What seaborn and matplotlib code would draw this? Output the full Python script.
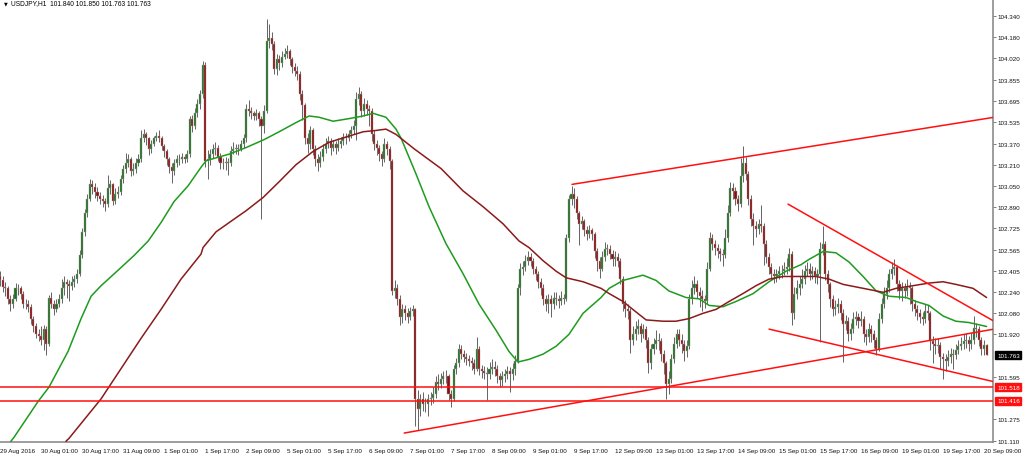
import matplotlib
matplotlib.use("Agg")
import matplotlib.pyplot as plt
import matplotlib.transforms as mtransforms
import seaborn as sns
import numpy as np

# ---- data ----
first_open = 102.36

closes = [
    102.33, 102.28, 102.27, 102.19, 102.15, 102.19, 102.27, 102.27, 102.23, 102.15,
    102.15, 102.13, 102.04, 101.98, 101.92, 101.91, 101.88, 101.96, 101.85, 102.20,
    102.15, 102.11, 102.15, 102.19, 102.27, 102.32, 102.30, 102.29, 102.32, 102.34,
    102.38, 102.52, 102.70, 102.84, 102.95, 103.06, 103.04, 103.00, 102.97, 102.95,
    102.93, 102.91, 103.03, 103.06, 102.93, 102.99, 103.00, 103.10, 103.18, 103.22,
    103.25, 103.16, 103.18, 103.22, 103.25, 103.41, 103.44, 103.41, 103.33, 103.37,
    103.41, 103.43, 103.41, 103.35, 103.31, 103.25, 103.19, 103.16, 103.22, 103.25,
    103.25, 103.27, 103.25, 103.29, 103.56, 103.50, 103.60, 103.67, 103.75, 103.97,
    103.24, 103.25, 103.29, 103.33, 103.34, 103.27, 103.22, 103.22, 103.23, 103.22,
    103.31, 103.33, 103.34, 103.33, 103.37, 103.41, 103.63, 103.62, 103.60, 103.58,
    103.60, 103.56, 103.50, 103.62, 104.15, 104.17, 104.13, 103.94, 104.01, 103.98,
    104.03, 104.05, 104.07, 104.01, 103.95, 103.92, 103.90, 103.75, 103.66, 103.41,
    103.37, 103.47, 103.33, 103.25, 103.22, 103.27, 103.33, 103.37, 103.39, 103.34,
    103.37, 103.34, 103.37, 103.39, 103.42, 103.41, 103.44, 103.47, 103.50, 103.71,
    103.75, 103.62, 103.67, 103.63, 103.62, 103.44, 103.37, 103.34, 103.29, 103.25,
    103.37, 103.33, 103.24, 102.25, 102.27, 102.19, 102.05, 102.11, 102.08, 102.05,
    102.10, 102.11, 101.43, 101.35, 101.43, 101.39, 101.39, 101.43, 101.44, 101.47,
    101.56, 101.54, 101.58, 101.60, 101.60, 101.47, 101.43, 101.66, 101.70, 101.81,
    101.77, 101.75, 101.73, 101.72, 101.70, 101.66, 101.81, 101.66, 101.64, 101.63,
    101.62, 101.66, 101.67, 101.66, 101.60, 101.57, 101.60, 101.62, 101.64, 101.62,
    101.66, 101.72, 102.27, 102.42, 102.43, 102.48, 102.51, 102.48, 102.42, 102.38,
    102.32, 102.27, 102.19, 102.15, 102.19, 102.15, 102.20, 102.19, 102.17, 102.20,
    102.19, 102.65, 102.95, 102.99, 102.95, 102.84, 102.76, 102.78, 102.71, 102.68,
    102.71, 102.68, 102.55, 102.48, 102.42, 102.51, 102.57, 102.57, 102.53, 102.49,
    102.51, 102.48, 102.34, 102.15, 102.11, 102.10, 101.88, 101.92, 101.96, 101.98,
    101.92, 101.96, 101.88, 101.70, 101.81, 101.85, 101.88, 101.87, 101.77, 101.70,
    101.54, 101.58, 101.73, 101.85, 101.92, 101.88, 101.85, 101.79, 101.83, 102.19,
    102.27, 102.30, 102.24, 102.21, 102.19, 102.17, 102.42, 102.65, 102.61, 102.58,
    102.55, 102.53, 102.52, 102.65, 102.84, 103.03, 103.01, 102.95, 102.91, 103.12,
    103.22, 103.14, 102.95, 102.80, 102.74, 102.72, 102.76, 102.74, 102.61, 102.51,
    102.43, 102.38, 102.36, 102.38, 102.40, 102.40, 102.42, 102.43, 102.53, 102.08,
    102.23, 102.27, 102.30, 102.34, 102.40, 102.42, 102.38, 102.40, 102.36, 102.38,
    102.57, 102.61, 102.38, 102.30, 102.19, 102.11, 102.13, 102.15, 102.08, 102.00,
    102.02, 101.92, 101.96, 102.04, 102.05, 102.02, 102.04, 101.92, 101.90, 101.96,
    101.92, 101.88, 101.81, 102.04, 102.15, 102.23, 102.27, 102.38, 102.42, 102.43,
    102.30, 102.25, 102.27, 102.25, 102.28, 102.27, 102.15, 102.11, 102.08, 102.05,
    102.04, 102.10, 102.08, 101.87, 101.85, 101.83, 101.84, 101.75, 101.73, 101.72,
    101.75, 101.77, 101.76, 101.80, 101.83, 101.85, 101.87, 101.88, 101.85, 101.88,
    101.97, 101.96, 101.88, 101.81, 101.84, 101.763,
]

highs = [
    102.40, 102.36, 102.32, 102.29, 102.22, 102.23, 102.31, 102.30, 102.29, 102.25,
    102.19, 102.18, 102.15, 102.06, 102.01, 101.96, 101.98, 101.99, 101.98, 102.22,
    102.24, 102.18, 102.19, 102.23, 102.34, 102.36, 102.34, 102.33, 102.36, 102.37,
    102.42, 102.56, 102.73, 102.87, 102.99, 103.10, 103.09, 103.07, 103.04, 103.00,
    102.98, 102.96, 103.13, 103.09, 103.07, 103.03, 103.05, 103.13, 103.21, 103.30,
    103.29, 103.27, 103.22, 103.26, 103.29, 103.47, 103.48, 103.46, 103.42, 103.40,
    103.43, 103.46, 103.47, 103.43, 103.37, 103.33, 103.27, 103.22, 103.25, 103.28,
    103.29, 103.30, 103.29, 103.32, 103.58, 103.59, 103.64, 103.71, 103.78, 104.00,
    103.99, 103.32, 103.33, 103.37, 103.38, 103.36, 103.30, 103.26, 103.27, 103.26,
    103.35, 103.38, 103.37, 103.37, 103.40, 103.44, 103.67, 103.70, 103.65, 103.62,
    103.63, 103.62, 103.58, 103.66, 104.32, 104.28, 104.22, 104.15, 104.05, 104.04,
    104.07, 104.10, 104.12, 104.09, 104.03, 103.98, 103.96, 103.92, 103.78, 103.68,
    103.45, 103.50, 103.49, 103.36, 103.29, 103.31, 103.37, 103.41, 103.43, 103.41,
    103.40, 103.39, 103.41, 103.42, 103.45, 103.45, 103.47, 103.50, 103.55, 103.76,
    103.80, 103.77, 103.72, 103.70, 103.66, 103.64, 103.47, 103.40, 103.36, 103.31,
    103.41, 103.39, 103.35, 103.25, 102.33, 102.30, 102.22, 102.15, 102.14, 102.12,
    102.13, 102.14, 102.12, 101.50, 101.47, 101.48, 101.44, 101.47, 101.48, 101.52,
    101.60, 101.62, 101.63, 101.64, 101.65, 101.62, 101.50, 101.69, 101.74, 101.85,
    101.84, 101.80, 101.78, 101.76, 101.75, 101.73, 101.90, 101.83, 101.69, 101.68,
    101.67, 101.71, 101.73, 101.72, 101.69, 101.63, 101.64, 101.66, 101.68, 101.67,
    101.70, 101.76, 102.30, 102.46, 102.48, 102.52, 102.55, 102.54, 102.50, 102.44,
    102.40, 102.35, 102.30, 102.22, 102.23, 102.22, 102.24, 102.24, 102.22, 102.25,
    102.23, 102.68, 102.98, 103.05, 103.03, 102.97, 102.86, 102.82, 102.80, 102.74,
    102.75, 102.73, 102.70, 102.58, 102.51, 102.55, 102.62, 102.61, 102.60, 102.56,
    102.55, 102.54, 102.50, 102.36, 102.18, 102.15, 102.12, 101.98, 102.02, 102.04,
    102.01, 102.00, 101.98, 101.90, 101.85, 101.89, 101.95, 101.93, 101.89, 101.80,
    101.72, 101.64, 101.77, 101.90, 101.96, 101.96, 101.92, 101.88, 101.88, 102.23,
    102.33, 102.36, 102.33, 102.28, 102.26, 102.22, 102.47, 102.70, 102.68, 102.64,
    102.61, 102.58, 102.57, 102.72, 102.90, 103.08, 103.07, 103.04, 102.98, 103.26,
    103.35, 103.27, 103.16, 102.98, 102.84, 102.78, 102.80, 102.90, 102.77, 102.64,
    102.54, 102.46, 102.42, 102.42, 102.44, 102.45, 102.47, 102.50, 102.58, 102.55,
    102.28, 102.33, 102.36, 102.42, 102.45, 102.47, 102.46, 102.44, 102.43, 102.42,
    102.62, 102.74, 102.63, 102.41, 102.32, 102.22, 102.18, 102.20, 102.18, 102.11,
    102.07, 102.05, 102.01, 102.09, 102.10, 102.08, 102.10, 102.06, 101.96, 102.01,
    101.99, 101.95, 101.90, 102.08, 102.20, 102.28, 102.33, 102.42, 102.47, 102.49,
    102.45, 102.33, 102.32, 102.31, 102.34, 102.32, 102.29, 102.18, 102.14, 102.11,
    102.09, 102.15, 102.14, 102.10, 101.91, 101.89, 101.89, 101.86, 101.78, 101.77,
    101.80, 101.82, 101.81, 101.85, 101.88, 101.90, 101.92, 101.93, 101.91, 101.93,
    102.06, 102.01, 101.98, 101.90, 101.88, 101.850,
]

lows = [
    102.29, 102.24, 102.21, 102.15, 102.10, 102.12, 102.17, 102.22, 102.19, 102.12,
    102.11, 102.09, 102.00, 101.94, 101.89, 101.87, 101.84, 101.80, 101.76, 101.83,
    102.12, 102.07, 102.09, 102.13, 102.16, 102.22, 102.20, 102.17, 102.26, 102.28,
    102.31, 102.36, 102.50, 102.67, 102.81, 102.93, 102.99, 102.96, 102.93, 102.91,
    102.89, 102.86, 102.89, 102.99, 102.90, 102.91, 102.96, 102.98, 103.07, 103.15,
    103.19, 103.12, 103.13, 103.15, 103.20, 103.23, 103.38, 103.36, 103.28, 103.30,
    103.35, 103.39, 103.38, 103.32, 103.27, 103.21, 103.15, 103.07, 103.13, 103.19,
    103.21, 103.22, 103.22, 103.23, 103.27, 103.46, 103.48, 103.57, 103.63, 103.72,
    103.19, 103.10, 103.21, 103.26, 103.28, 103.24, 103.18, 103.18, 103.17, 103.13,
    103.20, 103.29, 103.29, 103.28, 103.31, 103.34, 103.38, 103.58, 103.56, 103.55,
    103.55, 103.50, 102.80, 103.45, 103.60, 104.10, 104.08, 103.90, 103.89, 103.93,
    103.95, 104.01, 104.02, 103.97, 103.91, 103.88, 103.85, 103.70, 103.55, 103.37,
    103.30, 103.33, 103.28, 103.20, 103.16, 103.19, 103.24, 103.30, 103.34, 103.28,
    103.31, 103.29, 103.31, 103.34, 103.36, 103.37, 103.39, 103.41, 103.44, 103.40,
    103.66, 103.57, 103.58, 103.59, 103.50, 103.39, 103.32, 103.28, 103.24, 103.20,
    103.23, 103.28, 103.18, 102.22, 102.20, 102.14, 101.99, 102.01, 102.03, 102.01,
    102.03, 102.06, 101.22, 101.19, 101.30, 101.34, 101.33, 101.30, 101.38, 101.40,
    101.44, 101.50, 101.51, 101.54, 101.55, 101.42, 101.37, 101.41, 101.62, 101.67,
    101.73, 101.71, 101.69, 101.68, 101.65, 101.62, 101.64, 101.61, 101.59, 101.58,
    101.42, 101.58, 101.62, 101.60, 101.55, 101.52, 101.53, 101.56, 101.58, 101.48,
    101.57, 101.61, 101.70, 102.22, 102.37, 102.40, 102.45, 102.44, 102.38, 102.33,
    102.27, 102.22, 102.14, 102.10, 102.08, 102.05, 102.11, 102.14, 102.12, 102.14,
    102.15, 102.17, 102.62, 102.90, 102.88, 102.80, 102.60, 102.72, 102.67, 102.64,
    102.65, 102.64, 102.50, 102.40, 102.35, 102.40, 102.48, 102.52, 102.49, 102.44,
    102.44, 102.43, 102.30, 102.10, 102.05, 102.04, 101.78, 101.84, 101.88, 101.92,
    101.86, 101.89, 101.82, 101.63, 101.66, 101.77, 101.81, 101.80, 101.72, 101.62,
    101.43, 101.47, 101.55, 101.70, 101.82, 101.83, 101.78, 101.72, 101.75, 101.81,
    102.15, 102.23, 102.20, 102.13, 102.10, 102.12, 102.15, 102.40, 102.56, 102.52,
    102.50, 102.48, 102.44, 102.50, 102.62, 102.82, 102.95, 102.90, 102.86, 102.89,
    103.08, 103.09, 102.90, 102.74, 102.60, 102.66, 102.68, 102.70, 102.45, 102.46,
    102.38, 102.33, 102.31, 102.32, 102.34, 102.35, 102.37, 102.38, 102.40, 101.99,
    102.04, 102.19, 102.22, 102.27, 102.30, 102.36, 102.33, 102.34, 102.31, 102.30,
    101.86, 102.52, 102.33, 102.24, 102.13, 102.06, 102.07, 102.08, 102.03, 101.71,
    101.95, 101.87, 101.88, 101.93, 101.99, 101.97, 101.98, 101.86, 101.84, 101.86,
    101.86, 101.82, 101.76, 101.79, 102.01, 102.12, 102.19, 102.24, 102.34, 102.37,
    102.25, 102.19, 102.17, 102.20, 102.21, 102.15, 102.10, 102.06, 102.03, 102.01,
    101.99, 102.01, 102.03, 101.80, 101.70, 101.77, 101.78, 101.66, 101.58, 101.64,
    101.68, 101.70, 101.66, 101.73, 101.77, 101.80, 101.81, 101.82, 101.79, 101.81,
    101.85, 101.90, 101.83, 101.76, 101.76, 101.763,
]

# moving averages (bar index, price)
ma_fast_idx = [2, 4.3, 5.5, 14.8, 19.1, 26.5, 31.6, 35.5, 39.4, 44.5, 52.3, 57.8, 62.8,
               67.9, 73.4, 78.4, 80.4, 89.4, 96, 103, 108.9, 115.5, 120.6, 124.5, 130,
               136.2, 141.7, 145.6, 150.6, 154.5, 156.5, 162.3, 167.4, 174, 180.7,
               186.9, 193.6, 198.6, 202.1, 206.4, 211.9, 217, 222, 227.5, 234.5, 237.7,
               243.1, 250.9, 256, 261, 267.7, 272.8, 276.7, 282.1, 287.2, 293.9, 300.1,
               306.7, 312.6, 315.7, 321.2, 326.2, 331.3, 336.8, 341.9, 346.9, 353.6,
               357.5, 362.5, 368, 373, 378.1, 385]
ma_fast = [100.95, 101.11, 101.14, 101.41, 101.52, 101.79, 102.04, 102.21, 102.29, 102.38,
           102.52, 102.63, 102.77, 102.93, 103.05, 103.19, 103.24, 103.29, 103.34, 103.40,
           103.46, 103.53, 103.58, 103.57, 103.54, 103.56, 103.58, 103.60, 103.57, 103.48,
           103.41, 103.14, 102.89, 102.61, 102.38, 102.15, 101.95, 101.79, 101.71, 101.73,
           101.77, 101.83, 101.92, 102.08, 102.20, 102.27, 102.33, 102.37, 102.33, 102.25,
           102.20, 102.19, 102.14, 102.13, 102.17, 102.23, 102.32, 102.40, 102.45, 102.49,
           102.55, 102.54, 102.47, 102.36, 102.25, 102.21, 102.20, 102.17, 102.14, 102.06,
           102.02, 102.01, 101.98]

ma_slow_idx = [24, 25.8, 26.9, 39.4, 47.2, 55, 62.8, 70.6, 78.4, 79.2, 84.3, 89.4, 96,
               102.6, 108.9, 115.5, 122.1, 128.4, 135, 141.7, 146.7, 150.6, 154.5,
               161.6, 172.1, 180.7, 188.5, 196.3, 202.5, 206.4, 211.9, 217, 220.9,
               227.5, 234.5, 237.7, 243.1, 248.2, 252.1, 258.7, 263.8, 268.9, 274.3,
               279.4, 284.5, 289.9, 295, 300.1, 305.6, 312.6, 318.4, 323.5, 329,
               336.8, 344.6, 349.7, 356.3, 362.5, 368, 373, 379.7, 385]
ma_slow = [100.97, 101.11, 101.13, 101.43, 101.66, 101.89, 102.11, 102.34, 102.53, 102.58,
           102.70, 102.77, 102.86, 102.96, 103.08, 103.21, 103.31, 103.38, 103.42, 103.46,
           103.47, 103.48, 103.44, 103.33, 103.18, 103.01, 102.89, 102.76, 102.63, 102.58,
           102.48, 102.40, 102.35, 102.32, 102.27, 102.23, 102.17, 102.09, 102.03, 102.02,
           102.02, 102.04, 102.08, 102.11, 102.17, 102.23, 102.29, 102.34, 102.36, 102.36,
           102.36, 102.34, 102.30, 102.27, 102.24, 102.27, 102.29, 102.31, 102.32, 102.30,
           102.27, 102.20]

# drawn trend lines: (start bar, start price, end bar, end price)
trend_lines = [
    (223.2, 103.06, 387.9, 103.57),
    (157.7, 101.17, 387.9, 101.96),
    (307.5, 102.91, 387.9, 102.02),
    (300.1, 101.96, 387.9, 101.56),
]
h_levels = [101.518, 101.416]
last_price = 101.763

y_ticks = [104.340, 104.180, 104.020, 103.855, 103.695, 103.535, 103.370, 103.210,
           103.050, 102.890, 102.725, 102.565, 102.405, 102.240, 102.080, 101.920,
           101.595, 101.275, 101.110]
x_tick_labels = ["29 Aug 2016", "30 Aug 01:00", "30 Aug 17:00", "31 Aug 09:00",
                 "1 Sep 01:00", "1 Sep 17:00", "2 Sep 09:00", "5 Sep 01:00",
                 "5 Sep 17:00", "6 Sep 09:00", "7 Sep 01:00", "7 Sep 17:00",
                 "8 Sep 09:00", "9 Sep 01:00", "9 Sep 17:00", "12 Sep 09:00",
                 "13 Sep 01:00", "13 Sep 17:00", "14 Sep 09:00", "15 Sep 01:00",
                 "15 Sep 17:00", "16 Sep 09:00", "19 Sep 01:00", "19 Sep 17:00",
                 "20 Sep 09:00"]
title = "USDJPY,H1  101.840 101.850 101.763 101.763"

# ---- plot ----
sns.set_style("white")
plt.rcParams['font.family'] = ['Liberation Sans', 'DejaVu Sans']

fig = plt.figure(figsize=(10.24, 4.56), dpi=100)
ax = fig.add_axes([0, 13 / 456, 993 / 1024, 443 / 456])

closes = np.array(closes)
opens = np.concatenate([[first_open], closes[:-1]])
idx = np.arange(len(closes))
bull = closes >= opens

ax.vlines(idx, lows, highs, color="#4a4a4a", lw=0.6, zorder=2)
body = np.where(np.abs(closes - opens) < 0.004, 0.004, closes - opens)
ax.bar(idx, body, bottom=opens, width=0.8,
       color=np.where(bull, "#1f6e1f", "#8b0d0d"),
       edgecolor="#a0a0a0", linewidth=0.3, zorder=3)

sns.lineplot(x=ma_fast_idx, y=ma_fast, ax=ax, color="#1e9b1e", lw=1.1,
             sort=False, estimator=None, zorder=4)
sns.lineplot(x=ma_slow_idx, y=ma_slow, ax=ax, color="#8b1a1a", lw=1.1,
             sort=False, estimator=None, zorder=4)

for x0, y0, x1, y1 in trend_lines:
    ax.plot([x0, x1], [y0, y1], color="#ff1010", lw=1.1, zorder=5)
for lv in h_levels:
    ax.axhline(lv, color="#ff1010", lw=1.1, zorder=5)

ax.set_xlim(-0.05, 387.5)
ax.set_ylim(101.102, 104.469)

ax.yaxis.tick_right()
ax.set_yticks(y_ticks)
ax.set_yticklabels([f"{v:.3f}" for v in y_ticks])
ax.set_xticks(np.arange(len(x_tick_labels)) * 16)
ax.set_xticklabels(x_tick_labels, ha="left")
ax.tick_params(axis="both", labelsize=4.5, length=2.2, width=0.6, color="#666666",
               labelcolor="#111111", pad=1.0, direction="out")
ax.tick_params(axis="x", pad=2.0)
for s in ["top", "left"]:
    ax.spines[s].set_visible(False)
for s in ["right", "bottom"]:
    ax.spines[s].set_color("#8c8c8c")
    ax.spines[s].set_linewidth(1.2)

ax.grid(False)
ax.set_xlabel("")
ax.set_ylabel("")

# price tags on the right axis
tag_tr = mtransforms.blended_transform_factory(ax.transAxes, ax.transData)
for lv in h_levels:
    ax.text(1.004, lv, f"{lv:.3f}", transform=tag_tr, fontsize=4.5, color="white",
            va="center", ha="left", clip_on=False,
            bbox=dict(boxstyle="square,pad=0.25", fc="#ff1010", ec="#ff1010"))
ax.text(1.004, last_price, f"{last_price:.3f}", transform=tag_tr, fontsize=4.5,
        color="white", va="center", ha="left", clip_on=False,
        bbox=dict(boxstyle="square,pad=0.25", fc="black", ec="black"))

fig.text(4 / 1024, 1 - 4 / 456, "\u25bc", fontsize=3.5, color="black",
         va="center", ha="left", family="DejaVu Sans")
fig.text(11 / 1024, 1 - 4 / 456, title, fontsize=4.8, color="black",
         va="center", ha="left")

fig.savefig("out.png", dpi=100)
plt.close(fig)
